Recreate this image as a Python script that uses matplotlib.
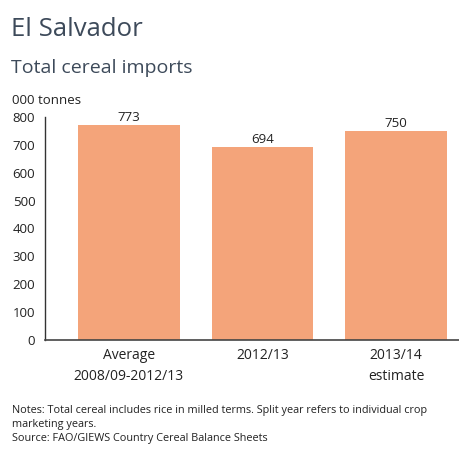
import matplotlib
matplotlib.use("Agg")
import matplotlib.pyplot as plt

categories = ["Average\n2008/09-2012/13", "2012/13", "2013/14\nestimate"]
values = [773, 694, 750]
yticks = [0, 100, 200, 300, 400, 500, 600, 700, 800]

plt.rcParams['font.family'] = ['Open Sans', 'DejaVu Sans']

W, H = 460, 457
fig = plt.figure(figsize=(W/100, H/100), dpi=100)
ax = fig.add_axes([45/W, 1-340/H, (460-45)/W, (340-117)/H])

bar_color = "#F4A47A"
text_dark = "#222222"
title_color = "#3d4a5a"

x = range(len(categories))
ax.bar(x, values, width=0.76, color=bar_color, zorder=2)
for i, v in enumerate(values):
    ax.text(i, v + 3, f"{v}", ha="center", va="bottom", fontsize=9.5, color=text_dark)

ax.set_xlim(-0.627, 2.478)
ax.set_ylim(0, 800)
ax.set_yticks(yticks)
ax.set_yticklabels([str(t) for t in yticks], fontsize=9.5, color=text_dark)
ax.set_xticks(list(x))
ax.set_xticklabels(categories, fontsize=10, color=text_dark, linespacing=1.5)
ax.tick_params(axis="x", length=0, pad=6)
ax.tick_params(axis="y", length=0, pad=7)
for s in ["top", "right"]:
    ax.spines[s].set_visible(False)
ax.spines["left"].set_color("#333333")
ax.spines["bottom"].set_color("#444444")
ax.spines["left"].set_linewidth(1.0)
ax.spines["bottom"].set_linewidth(1.2)

fig.text(11/W, 1-30/H, "El Salvador", fontsize=18.5, color=title_color, va="center", ha="left")
fig.text(11/W, 1-68/H, "Total cereal imports", fontsize=14, color=title_color, va="center", ha="left")
fig.text(12/W, 1-100/H, "000 tonnes", fontsize=9.5, color=text_dark, va="center", ha="left")

notes_kw = dict(fontsize=7.8, color=text_dark, va="center", ha="left")
fig.text(12/W, 1-411/H, "Notes: Total cereal includes rice in milled terms. Split year refers to individual crop", **notes_kw)
fig.text(12/W, 1-424.5/H, "marketing years.", **notes_kw)
fig.text(12/W, 1-438/H, "Source: FAO/GIEWS Country Cereal Balance Sheets", **notes_kw)

fig.savefig("out.png", dpi=100)
